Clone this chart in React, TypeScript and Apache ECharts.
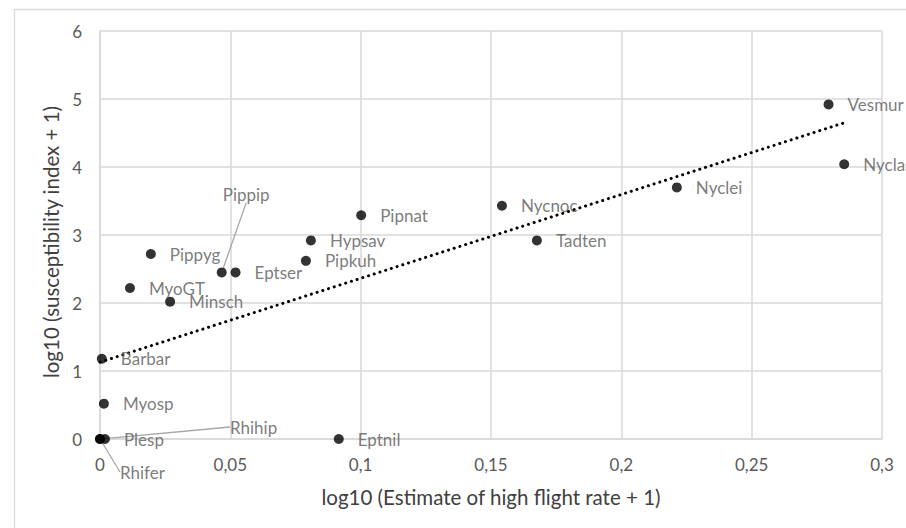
import React, { useEffect, useRef } from "react";
import * as echarts from "echarts";

const speciesNames = [
  "Pippyg", "Pippip", "Eptser", "Pipnat", "Hypsav", "Pipkuh", "MyoGT", "Minsch",
  "Barbar", "Myosp", "Rhihip", "Rhifer", "Plesp", "Eptnil", "Nycnoc", "Tadten",
  "Nyclei", "Vesmur", "Nyclas",
];
const flightRate = [
  0.0195, 0.0467, 0.052, 0.1002, 0.0809, 0.079, 0.0115, 0.0269,
  0.0007, 0.0015, 0, 0, 0.0019, 0.0916, 0.1542, 0.1676,
  0.2213, 0.2795, 0.2855,
];
const susceptibility = [
  2.72, 2.45, 2.45, 3.29, 2.92, 2.62, 2.22, 2.02,
  1.18, 0.52, 0, 0, 0, 0, 3.43, 2.92,
  3.7, 4.92, 4.04,
];
// linear trendline end points (x, y)
const trendX = [0, 0.2855];
const trendY = [1.13, 4.65];

const xTicks = [0, 0.05, 0.1, 0.15, 0.2, 0.25, 0.3];
const yTicks = [0, 1, 2, 3, 4, 5, 6];

// label shifts for labels moved away from their points (dx, dy)
const movedLabels: Record<string, [number, number]> = {
  Pippip: [-18, -78],
  Rhihip: [111, -12],
  Rhifer: [1, 33],
};

const FONT = "Lato";
const GRAY = "#595959";
const GRID = "#d9d9d9";

export default function App() {
  const ref = useRef<HTMLDivElement>(null);
  useEffect(() => {
    if (!ref.current) return;
    const chart = echarts.init(ref.current, undefined, { renderer: "svg" });
    const fmt = (v: number) => String(parseFloat(v.toFixed(2))).replace(".", ",");
    const data = speciesNames.map((n, i) => {
      const item: any = { name: n, value: [flightRate[i], susceptibility[i]] };
      if (movedLabels[n]) {
        item.labelLine = { show: true, lineStyle: { color: "#a6a6a6", width: 1.3 } };
      }
      return item;
    });
    chart.setOption({
      animation: false,
      backgroundColor: "#ffffff",
      textStyle: { fontFamily: FONT },
      graphic: [
        {
          type: "rect",
          left: 12,
          top: 7,
          shape: { width: 900, height: 530 },
          style: { fill: "none", stroke: GRID, lineWidth: 1.3 },
          silent: true,
        },
      ],
      grid: { left: 100, top: 31, right: 24, bottom: 89 },
      xAxis: {
        type: "value",
        min: xTicks[0],
        max: xTicks[xTicks.length - 1],
        interval: 0.05,
        name: "log10 (Estimate of high flight rate + 1)",
        nameLocation: "middle",
        nameGap: 47,
        nameTextStyle: { color: "#404040", fontSize: 20.5, fontFamily: FONT },
        axisLine: { show: true, lineStyle: { color: GRID, width: 1.5 } },
        axisTick: { show: false },
        axisLabel: { color: GRAY, fontSize: 17, margin: 17, fontFamily: FONT, formatter: fmt },
        splitLine: { show: true, lineStyle: { color: GRID, width: 1.5 } },
      },
      yAxis: {
        type: "value",
        min: yTicks[0],
        max: yTicks[yTicks.length - 1],
        interval: 1,
        name: "log10 (susceptibility index + 1)",
        nameLocation: "middle",
        nameGap: 38,
        nameTextStyle: {
          color: "#404040",
          fontSize: 20.5,
          fontFamily: FONT,
          padding: [0, 14, 0, 0],
        },
        axisLine: { show: true, lineStyle: { color: GRID, width: 1.5 } },
        axisTick: { show: false },
        axisLabel: { color: GRAY, fontSize: 17, margin: 18, fontFamily: FONT, formatter: fmt },
        splitLine: { show: true, lineStyle: { color: GRID, width: 1.5 } },
      },
      series: [
        {
          type: "line",
          data: trendX.map((x, i) => [x, trendY[i]]),
          symbol: "none",
          silent: true,
          lineStyle: { color: "#000000", width: 3, type: [0.1, 5.9], cap: "round" },
          z: 3,
        },
        {
          type: "scatter",
          clip: false,
          data,
          symbol: "circle",
          symbolSize: 10,
          itemStyle: { color: "#000000" },
          label: {
            show: true,
            position: "right",
            distance: 14,
            formatter: (p: any) => p.name,
            color: GRAY,
            fontSize: 17,
            fontFamily: FONT,
          },
          labelLayout: (p: any) => {
            const n = speciesNames[p.dataIndex];
            const m = movedLabels[n];
            if (m) return { dx: m[0], dy: m[1] };
            return {};
          },
          z: 4,
        },
      ],
    });
    return () => chart.dispose();
  }, []);
  return (
    <div
      ref={ref}
      style={{ position: "fixed", left: 0, top: 0, width: 906, height: 528, background: "#fff" }}
    />
  );
}
